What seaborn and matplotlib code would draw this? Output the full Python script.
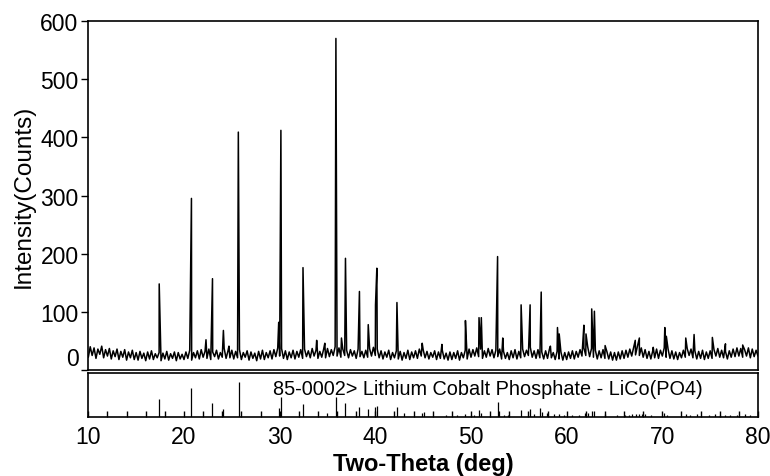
import seaborn as sns
import numpy as np
import pandas as pd
import matplotlib.pyplot as plt
from matplotlib.ticker import MultipleLocator

# scan: 10-80 deg, background counts read every 0.2 deg
scan_start = 10.0
scan_step = 0.2
background_counts = [
    22, 40, 25, 38, 20, 36, 27, 41, 21, 35, 24, 37, 19, 33, 23, 36, 18, 32, 22, 35, 17, 31, 21, 34, 18,
    30, 17, 32, 20, 29, 16, 31, 19, 33, 18, 28, 21, 30, 16, 29, 19, 32, 17, 28, 20, 31, 16, 30, 19, 27,
    18, 31, 20, 34, 17, 30, 21, 33, 19, 35, 22, 32, 20, 36, 18, 31, 23, 34, 19, 30, 22, 37, 20, 33, 21,
    34, 19, 32, 21, 35, 18, 30, 22, 33, 17, 31, 20, 29, 16, 32, 19, 34, 18, 30, 21, 33, 19, 35, 23, 38,
    24, 37, 20, 33, 18, 31, 21, 34, 19, 32, 22, 35, 20, 36, 23, 33, 21, 37, 24, 34, 20, 32, 22, 36, 21,
    37, 23, 35, 25, 40, 24, 38, 22, 36, 25, 34, 21, 35, 24, 33, 20, 36, 23, 32, 21, 34, 22, 37, 24, 39,
    25, 36, 21, 33, 19, 31, 22, 34, 18, 30, 21, 33, 19, 32, 17, 30, 20, 34, 18, 31, 21, 33, 20, 36, 24,
    35, 21, 32, 19, 30, 22, 33, 18, 31, 20, 34, 19, 29, 17, 31, 18, 30, 20, 33, 17, 30, 21, 34, 19, 36,
    22, 35, 24, 38, 23, 36, 20, 33, 22, 37, 24, 35, 21, 34, 23, 36, 19, 32, 20, 30, 18, 33, 21, 35, 19,
    32, 21, 36, 23, 34, 25, 39, 22, 33, 20, 35, 21, 31, 19, 33, 20, 36, 21, 30, 18, 32, 19, 31, 17, 30,
    18, 31, 20, 33, 19, 32, 22, 35, 24, 38, 25, 40, 23, 37, 22, 34, 19, 33, 21, 35, 20, 32, 19, 31, 17,
    30, 17, 31, 19, 33, 20, 34, 22, 36, 24, 39, 26, 41, 25, 38, 22, 35, 20, 32, 19, 33, 21, 36, 20, 34,
    24, 38, 22, 36, 20, 33, 19, 31, 18, 30, 21, 34, 22, 37, 25, 36, 21, 33, 19, 32, 20, 34, 18, 31, 20,
    33, 20, 35, 24, 37, 22, 34, 21, 32, 19, 33, 22, 36, 23, 38, 24, 37, 22, 35, 24, 38, 21, 36, 23, 34,
    24,
]

# peak tops of the measured pattern
peak_2theta = [17.41, 20.78, 22.30, 22.98, 24.12, 24.70, 25.68, 29.90, 30.13, 32.44,
               33.87, 34.72, 35.88, 36.46, 36.88, 38.34, 39.26, 40.02, 40.16, 42.26,
               44.90, 46.96, 49.42, 50.84, 51.08, 52.78, 53.32, 55.24, 56.18, 57.34,
               58.30, 59.04, 59.22, 61.80, 62.02, 62.62, 62.90, 64.02, 67.17, 67.60,
               69.05, 70.26, 70.42, 72.45, 73.32, 75.23, 76.60, 78.40]
peak_counts = [148, 295, 52, 157, 68, 41, 409, 82, 412, 176,
               51, 46, 570, 55, 192, 135, 78, 112, 175, 116,
               46, 44, 85, 90, 90, 195, 55, 112, 112, 134,
               41, 73, 62, 77, 62, 105, 101, 42, 51, 55,
               39, 73, 58, 55, 61, 56, 45, 43]

# reference card 85-0002 (relative intensity, %)
card_label = "85-0002> Lithium Cobalt Phosphate - LiCo(PO4)"
card_2theta = [17.38, 20.78, 22.96, 24.12, 25.70, 29.95, 30.15, 32.43, 34.96, 35.88,
               36.88, 38.34, 39.28, 39.98, 40.14, 42.30, 43.00, 44.90, 45.10, 47.42,
               48.53, 49.33, 50.00, 50.30, 50.82, 51.03, 52.80, 52.98, 53.50, 53.85,
               55.24, 56.18, 56.63, 57.26, 57.43, 57.90, 58.70, 59.24, 59.76, 60.56,
               61.32, 61.95, 62.19, 62.65, 62.82, 63.97, 65.29, 66.05, 66.50, 66.85,
               67.20, 67.55, 67.90, 68.24, 68.77, 70.16, 70.50, 72.52, 72.93, 73.63,
               74.85, 75.54, 76.06, 76.59, 77.10, 77.81, 78.67, 79.20]
card_rel_int = [53, 84, 39, 22, 100, 24, 57, 37, 12, 57,
                41, 29, 22, 29, 32, 28, 12, 11, 15, 6,
                6, 9, 5, 5, 19, 12, 42, 17, 6, 5,
                19, 22, 9, 25, 15, 12, 9, 9, 5, 6,
                5, 12, 12, 17, 17, 9, 6, 6, 5, 9,
                9, 9, 9, 9, 6, 12, 6, 9, 6, 9,
                6, 9, 6, 6, 6, 6, 9, 6]

bg_2theta = scan_start + scan_step * np.arange(len(background_counts))
pattern = pd.concat([
    pd.DataFrame({"two_theta": bg_2theta, "counts": background_counts}),
    pd.DataFrame({"two_theta": peak_2theta, "counts": peak_counts}),
]).sort_values("two_theta")

sns.set_style("ticks", {"axes.edgecolor": "black", "text.color": "black",
                        "xtick.color": "black", "ytick.color": "black",
                        "axes.labelcolor": "black"})
plt.rcParams["font.family"] = ["Liberation Sans", "DejaVu Sans"]

fig = plt.figure(figsize=(7.7, 4.77), dpi=100)
ax = fig.add_axes([0.1147, 0.2222, 0.8697, 0.7317])
ax2 = fig.add_axes([0.1147, 0.1243, 0.8697, 0.0906])

sns.lineplot(data=pattern, x="two_theta", y="counts", color="black",
             linewidth=1.1, estimator=None, sort=False, ax=ax)
ax.set_xlim(10, 80)
ax.set_ylim(0, 600)
ax.set_yticks(range(0, 601, 100))
ax.tick_params(axis="y", direction="out", length=5, width=1, labelsize=16.5, pad=2)
ax.tick_params(axis="x", bottom=False, labelbottom=False)
ax.set_xlabel("")
ax.set_ylabel("Intensity(Counts)", fontsize=17.5, labelpad=4)
# the zero label sits a little above its tick
ax.yaxis.get_major_ticks()[0].label1.set_verticalalignment("bottom")

ax2.vlines(card_2theta, 0, card_rel_int, color="black", linewidth=0.9)
ax2.set_xlim(10, 80)
ax2.set_ylim(0, 126)
ax2.set_yticks([])
ax2.xaxis.set_major_locator(MultipleLocator(10))
ax2.xaxis.set_minor_locator(MultipleLocator(2))
ax2.tick_params(axis="x", which="both", direction="in", length=4, width=1,
                labelsize=16.5, pad=6)
ax2.set_xlabel("Two-Theta (deg)", fontsize=17, fontweight="bold", labelpad=3)
ax2.text(29.3, 0.66, card_label, transform=ax2.get_xaxis_transform(),
         fontsize=14.3, ha="left", va="center")

for a in (ax, ax2):
    for s in a.spines.values():
        s.set_linewidth(1.2)

fig.savefig("out.png", dpi=100)
